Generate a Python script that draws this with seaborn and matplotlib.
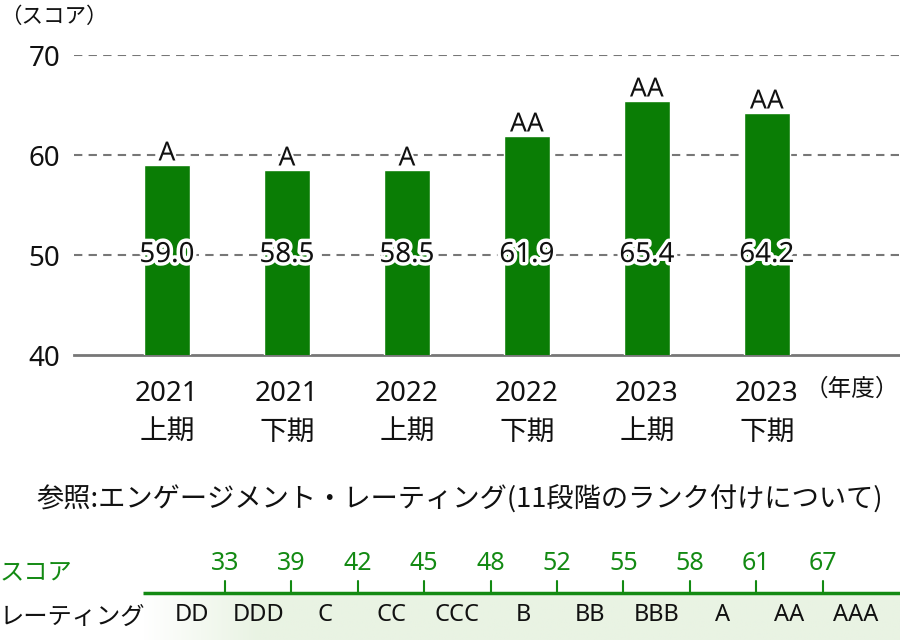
import numpy as np
import pandas as pd
import matplotlib
matplotlib.use("Agg")
import matplotlib.pyplot as plt
import matplotlib.patheffects as pe
from matplotlib.colors import to_rgb
import seaborn as sns

# ---- data ----
periods = ["2021\n上期", "2021\n下期", "2022\n上期", "2022\n下期", "2023\n上期", "2023\n下期"]
scores = [59.0, 58.5, 58.5, 61.9, 65.4, 64.2]
ratings = ["A", "A", "A", "AA", "AA", "AA"]
thresholds = [33, 39, 42, 45, 48, 52, 55, 58, 61, 67]
rating_scale = ["DD", "DDD", "C", "CC", "CCC", "B", "BB", "BBB", "A", "AA", "AAA"]
y_ticks = [40, 50, 60, 70]

sns.set_theme(style="white")
plt.rcParams["font.family"] = ["Noto Sans CJK JP", "DejaVu Sans"]
LAT = ["Noto Sans", "Noto Sans CJK JP"]

BAR = "#0a7d05"
GREEN = "#138a13"
GRID = "#777777"
INK = "#111111"

W, H = 900, 640
fig = plt.figure(figsize=(9, 6.4), dpi=100)

def px_rect(x0, y0, x1, y1):
    return [x0 / W, 1 - y1 / H, (x1 - x0) / W, (y1 - y0) / H]

ax = fig.add_axes(px_rect(74, 55, 900, 355))
df = pd.DataFrame({"period": periods, "score": scores})
sns.barplot(data=df, x="period", y="score", color=BAR, saturation=1,
            width=0.383, ax=ax, zorder=3)
ax.set_ylim(40, 70)
ax.set_xlim(-0.775, 6.11)
ax.set_yticks(y_ticks)
ax.set_xlabel("")
ax.set_ylabel("")
for s in ["top", "right", "left"]:
    ax.spines[s].set_visible(False)
ax.spines["bottom"].set_color(GRID)
ax.spines["bottom"].set_linewidth(2)
for v in y_ticks[1:]:
    ax.axhline(v, color=GRID, lw=1.5, ls=(0, (4, 3)), zorder=1)
ax.tick_params(axis="y", length=0, labelsize=20, pad=10, labelcolor=INK)
ax.tick_params(axis="x", length=0, labelsize=20, pad=18, labelcolor=INK)
for lbl in ax.get_yticklabels():
    lbl.set_fontfamily(LAT)
for lbl in ax.get_xticklabels():
    lbl.set_fontfamily(LAT)
    lbl.set_linespacing(1.5)

for i, (v, r) in enumerate(zip(scores, ratings)):
    ax.text(i, 50, f"{v:.1f}", ha="center", va="center", fontsize=20,
            family=LAT, color=INK, zorder=5,
            path_effects=[pe.withStroke(linewidth=5, foreground="white")])
    ax.text(i, v - 0.25, r, ha="center", va="bottom", fontsize=19,
            family=LAT, color=INK, zorder=5,
            path_effects=[pe.withStroke(linewidth=3, foreground="white")])

fig.text(0, 1 - 17 / H, "（スコア）", ha="left", va="center", fontsize=15.5, color=INK)
fig.text(852 / W, 1 - 389 / H, "（年度）", ha="center", va="center", fontsize=17, color=INK)
fig.text(36 / W, 1 - 500 / H, "参照:エンゲージメント・レーティング(11段階のランク付けについて)",
         ha="left", va="center", fontsize=19.6, color=INK)

# ---- rating scale table ----
ax2 = fig.add_axes(px_rect(143, 540, 900, 640))
step = 66.4
x0 = -(225 - 143) / step
x1 = (900 - 225) / step

n = 400
xs = np.linspace(x0, x1, n)
alpha = np.clip((xs - x0) / (0.5 - x0), 0, 1)
c = np.array(to_rgb("#e9f3e3"))
img = np.ones((1, n, 3)) * (1 - alpha)[None, :, None] + c[None, None, :] * alpha[None, :, None]
ax2.imshow(img, extent=[x0, x1, 100, 53], aspect="auto", zorder=0)
ax2.set_xlim(x0, x1)
ax2.set_ylim(100, 0)
ax2.axis("off")

ax2.plot([x0, x1], [53, 53], color=GREEN, lw=2.5, solid_capstyle="butt", zorder=2)
for i, t in enumerate(thresholds):
    ax2.plot([i, i], [41, 53], color=GREEN, lw=1.5, zorder=2)
    ax2.text(i, 23, str(t), ha="center", va="center", fontsize=18,
             family=LAT, color=GREEN)
for i, r in enumerate(rating_scale):
    ax2.text(i - 0.5, 75, r, ha="center", va="center", fontsize=17,
             family=LAT, color=INK)

fig.text(0, 1 - 572 / H, "スコア", ha="left", va="center", fontsize=17.5, color=GREEN)
fig.text(0, 1 - 617 / H, "レーティング", ha="left", va="center", fontsize=17.5, color=INK)

fig.savefig("out.png", dpi=100)
